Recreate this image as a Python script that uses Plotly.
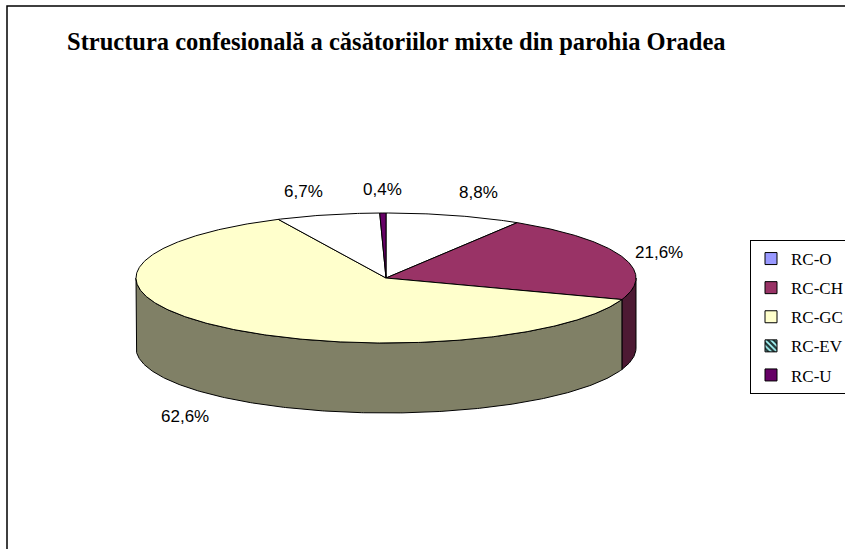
import numpy as np
import plotly.graph_objects as go

# ---- data ----
categories = ["RC-O", "RC-CH", "RC-GC", "RC-EV", "RC-U"]
values = [8.8, 21.6, 62.6, 6.7, 0.4]
title_text = "Structura confesională a căsătoriilor mixte din parohia Oradea"

# ---- styles ----
top_colors = ["#FFFFFF", "#993366", "#FFFFCC", "#FFFFFF", "#660066"]
side_colors = ["#808080", "#4D1A33", "#808066", "#808080", "#330033"]
legend_colors = ["#9999FF", "#993366", "#FFFFCC", "#CCFFFF", "#660066"]

W, H = 845, 549
CX, CY, RX, RY, DEPTH = 386, 278, 250, 65, 70


def pt(theta_deg, dy=0.0):
    t = np.radians(theta_deg)
    return CX + RX * np.sin(t), CY - RY * np.cos(t) + dy


total = sum(values)
bounds = np.concatenate([[0], np.cumsum(values) / total * 360.0])

fig = go.Figure()

# side walls (front half only)
for i, cat in enumerate(categories):
    a, b = bounds[i], bounds[i + 1]
    lo, hi = max(a, 90.0), min(b, 270.0)
    if hi <= lo:
        continue
    th = np.linspace(lo, hi, max(3, int((hi - lo) * 2)))
    xt, yt = pt(th)
    xb, yb = pt(th[::-1], DEPTH)
    xs = np.concatenate([xt, xb, xt[:1]])
    ys = np.concatenate([yt, yb, yt[:1]])
    fig.add_trace(go.Scatter(x=xs, y=ys, mode="lines", fill="toself",
                             fillcolor=side_colors[i],
                             line=dict(color="black", width=1),
                             hoverinfo="skip", showlegend=False))

# top faces
for i, cat in enumerate(categories):
    a, b = bounds[i], bounds[i + 1]
    th = np.linspace(a, b, max(3, int((b - a) * 2)))
    xa, ya = pt(th)
    xs = np.concatenate([[CX], xa, [CX]])
    ys = np.concatenate([[CY], ya, [CY]])
    fig.add_trace(go.Scatter(x=xs, y=ys, mode="lines", fill="toself",
                             fillcolor=top_colors[i],
                             line=dict(color="black", width=1),
                             hoverinfo="skip", showlegend=False))

# legend entries
for i, cat in enumerate(categories):
    marker = dict(color=legend_colors[i], line=dict(color="black", width=1))
    if cat == "RC-EV":
        marker["pattern"] = dict(shape="\\", fgcolor="#AAFFFF", bgcolor="#223838",
                                 size=5, solidity=0.4, fillmode="replace")
    fig.add_trace(go.Bar(x=[None], y=[None], name=cat, marker=marker,
                         legendgroup=cat, showlegend=True, hoverinfo="skip"))

# data labels
annotations = []
for i, v in enumerate(values):
    mid = (bounds[i] + bounds[i + 1]) / 2
    s, c = np.sin(np.radians(mid)), np.cos(np.radians(mid))
    ex, ey = pt(mid, DEPTH if c < 0 else 0)
    lx, ly = ex + 12 * s, ey - 12 * c
    xanchor = "center" if abs(s) < 0.2 else ("left" if s > 0 else "right")
    yanchor = "middle" if abs(c) < 0.5 else ("bottom" if c > 0 else "top")
    annotations.append(dict(x=lx, y=ly, xref="x", yref="y",
                            text=f"{v:.1f}".replace(".", ",") + "%",
                            showarrow=False, xanchor=xanchor, yanchor=yanchor,
                            font=dict(family="Liberation Sans", size=17, color="black")))

annotations.append(dict(x=65, y=41, xref="x", yref="y", text="<b>" + title_text + "</b>",
                        showarrow=False, xanchor="left", yanchor="middle",
                        font=dict(family="Liberation Serif", size=24.5, color="black")))

fig.update_layout(
    width=W, height=H,
    margin=dict(l=0, r=0, t=0, b=0, pad=0, autoexpand=False),
    paper_bgcolor="white", plot_bgcolor="white",
    xaxis=dict(range=[0, W], visible=False, fixedrange=True, domain=[0, 1]),
    yaxis=dict(range=[H, 0], visible=False, fixedrange=True, domain=[0, 1]),
    showlegend=True,
    legend=dict(x=750 / W, y=1 - 240 / H, xanchor="left", yanchor="top",
                bordercolor="black", borderwidth=1, bgcolor="white",
                font=dict(family="Liberation Serif", size=17, color="black"),
                tracegroupgap=4, itemclick=False, itemdoubleclick=False),
    annotations=annotations,
    shapes=[dict(type="rect", xref="x", yref="y", x0=7, y0=6, x1=W + 10, y1=H + 10,
                 line=dict(color="black", width=1.5), fillcolor="rgba(0,0,0,0)",
                 layer="below")],
)

fig.write_html("out.html", config={"displayModeBar": False},
               post_script="document.body.style.margin='0';document.body.style.overflow='hidden';")
